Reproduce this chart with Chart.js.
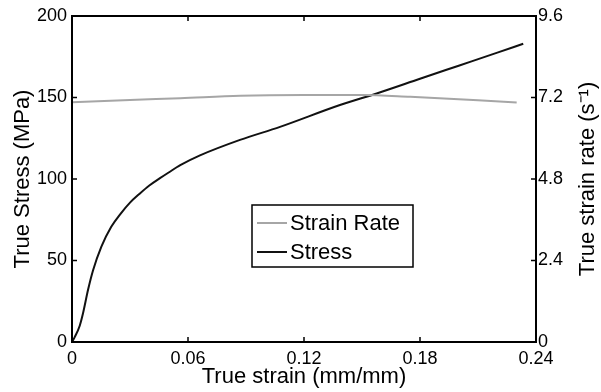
<!DOCTYPE html>
<html>
<head>
<meta charset="utf-8">
<script src="https://cdn.jsdelivr.net/npm/chart.js@4/dist/chart.umd.min.js"></script>
<style>
  html, body { margin: 0; padding: 0; background: #fff; }
  #wrap { width: 601px; height: 392px; }
</style>
</head>
<body>
<div id="wrap"><canvas id="grafico" width="601" height="392"></canvas></div>
<script>
// Datos
const strainX = [0, 0.0014, 0.004, 0.0057, 0.0083, 0.0109, 0.0152, 0.0203, 0.025, 0.03, 0.035, 0.04, 0.0455, 0.05, 0.056, 0.0662, 0.0869, 0.1076, 0.1386, 0.1576, 0.18, 0.20, 0.22, 0.2334];
const stressY = [0, 3, 10, 17.6, 32, 44, 58.5, 70.7, 78.5, 85.5, 91, 96, 100.5, 104, 108.5, 114.5, 124, 132, 145.4, 152.5, 161.5, 169.5, 177.5, 183];

const rateX = [0, 0.03, 0.056, 0.087, 0.12, 0.15, 0.175, 0.19, 0.21, 0.23];
const rateY = [7.06, 7.13, 7.18, 7.25, 7.27, 7.27, 7.22, 7.18, 7.12, 7.05];

const xTicks = [0, 0.06, 0.12, 0.18, 0.24];
const stressTicks = [0, 50, 100, 150, 200];
const rateTicks = [0, 2.4, 4.8, 7.2, 9.6];

const fuente = "'Liberation Sans', Arial, Helvetica, sans-serif";

const toXY = (xs, ys) => xs.map((x, i) => ({ x: x, y: ys[i] }));

// Marco, marcas hacia adentro, leyenda y título derecho
const marcoPlugin = {
    id: 'marco',
    afterDraw(chart) {
        const ctx = chart.ctx;
        const a = chart.chartArea;
        const sx = chart.scales.x, sl = chart.scales.yStress, sr = chart.scales.yRate;
        ctx.save();
        ctx.strokeStyle = '#000';
        ctx.lineWidth = 2;
        ctx.strokeRect(a.left, a.top, a.right - a.left, a.bottom - a.top);

        ctx.lineWidth = 1.5;
        ctx.beginPath();
        xTicks.forEach(v => {
            const px = sx.getPixelForValue(v);
            ctx.moveTo(px, a.bottom); ctx.lineTo(px, a.bottom - 5);
            ctx.moveTo(px, a.top); ctx.lineTo(px, a.top + 5);
        });
        stressTicks.forEach(v => {
            const py = sl.getPixelForValue(v);
            ctx.moveTo(a.left, py); ctx.lineTo(a.left + 5, py);
        });
        rateTicks.forEach(v => {
            const py = sr.getPixelForValue(v);
            ctx.moveTo(a.right, py); ctx.lineTo(a.right - 5, py);
        });
        ctx.stroke();

        // título del eje derecho
        ctx.fillStyle = '#000';
        ctx.font = '22px ' + fuente;
        ctx.translate(588, (a.top + a.bottom) / 2);
        ctx.rotate(-Math.PI / 2);
        ctx.textAlign = 'center';
        ctx.textBaseline = 'middle';
        ctx.fillText('True strain rate (s\u207B\u00B9)', 0, 0);
        ctx.restore();

        // leyenda
        ctx.save();
        const bx = 252, by = 205, bw = 161, bh = 62;
        ctx.fillStyle = '#fff';
        ctx.fillRect(bx, by, bw, bh);
        ctx.strokeStyle = '#000';
        ctx.lineWidth = 1.5;
        ctx.strokeRect(bx, by, bw, bh);
        ctx.font = '22px ' + fuente;
        ctx.textBaseline = 'middle';
        ctx.textAlign = 'left';
        const filas = [223, 252];
        chart.data.datasets.forEach((ds, i) => {
            const y = filas[i];
            ctx.strokeStyle = ds.borderColor;
            ctx.lineWidth = 2;
            ctx.beginPath();
            ctx.moveTo(257, y); ctx.lineTo(287, y);
            ctx.stroke();
            ctx.fillStyle = '#000';
            ctx.fillText(ds.label, 290, y + 1);
        });
        ctx.restore();
    }
};

const ctx = document.getElementById("grafico").getContext("2d");
new Chart(ctx, {
    type: 'line',
    data: {
        datasets: [{
            label: 'Strain Rate',
            data: toXY(rateX, rateY),
            yAxisID: 'yRate',
            borderColor: '#a6a6a6',
            borderWidth: 2,
            pointRadius: 0,
            cubicInterpolationMode: 'monotone'
        }, {
            label: 'Stress',
            data: toXY(strainX, stressY),
            yAxisID: 'yStress',
            borderColor: '#111',
            borderWidth: 2,
            pointRadius: 0,
            cubicInterpolationMode: 'monotone'
        }]
    },
    options: {
        responsive: false,
        animation: false,
        layout: { padding: { top: 16, left: 0, right: 0, bottom: 0 } },
        plugins: { legend: { display: false }, tooltip: { enabled: false } },
        scales: {
            x: {
                type: 'linear',
                min: 0, max: 0.24,
                afterBuildTicks: s => { s.ticks = xTicks.map(v => ({ value: v })); },
                afterFit: s => { s.height = 50; },
                grid: { display: false, drawTicks: false },
                border: { display: false },
                ticks: {
                    color: '#000', padding: 6,
                    font: { family: fuente, size: 18 },
                    callback: v => String(+v.toFixed(2))
                },
                title: {
                    display: true, text: 'True strain (mm/mm)', color: '#000',
                    font: { family: fuente, size: 22 },
                    padding: { top: 0, bottom: 2 }
                }
            },
            yStress: {
                type: 'linear', position: 'left',
                min: 0, max: 200,
                afterBuildTicks: s => { s.ticks = stressTicks.map(v => ({ value: v })); },
                afterFit: s => { s.width = 72; },
                grid: { display: false, drawTicks: false },
                border: { display: false },
                ticks: { color: '#000', padding: 5, font: { family: fuente, size: 18 } },
                title: {
                    display: true, text: 'True Stress (MPa)', color: '#000',
                    font: { family: fuente, size: 22 },
                    padding: { top: 10, bottom: 0 }
                }
            },
            yRate: {
                type: 'linear', position: 'right',
                min: 0, max: 9.6,
                afterBuildTicks: s => { s.ticks = rateTicks.map(v => ({ value: v })); },
                afterFit: s => { s.width = 65; },
                grid: { display: false, drawTicks: false },
                border: { display: false },
                ticks: {
                    color: '#000', padding: 2,
                    font: { family: fuente, size: 18 },
                    callback: v => v === 0 ? '0' : v.toFixed(1)
                }
            }
        }
    },
    plugins: [marcoPlugin]
});
</script>
</body>
</html>
